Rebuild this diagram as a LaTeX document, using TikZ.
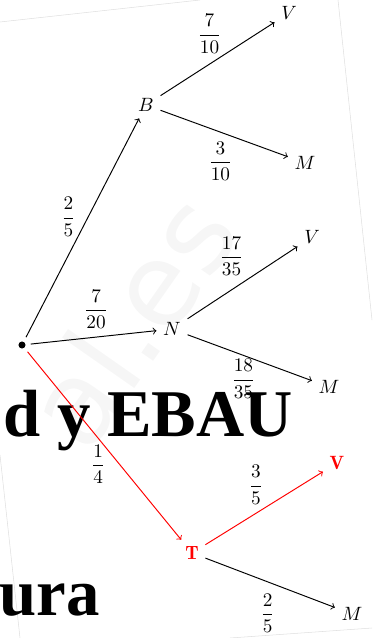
\documentclass[11pt,tikz,border=0pt]{standalone}
\usepackage{amsmath}
\usepackage{fontspec}
\newfontfamily\bigserif{Liberation Serif}
\newfontfamily\wmsans{DejaVu Sans}
\tikzset{
  prob/.style={inner sep=1pt, text=black},
  dot/.style={circle, fill, inner sep=0pt, minimum size=4pt, outer sep=3pt},
  branch/.style={->, line width=0.55pt},
  hit/.style={branch, red},
  edge line/.style={gray!25, line width=0.3pt}
}

\begin{document}
\begin{tikzpicture}[x=0.02cm, y=-0.02cm]
  \useasboundingbox (0,0) rectangle (372,638);
  % page edges and watermark
  \draw[edge line] (0,22) -- (200,0);
  \draw[edge line] (338,0) -- (372,320);
  \draw[edge line] (0,455) -- (20,638);
  \draw[edge line] (230,638) -- (372,628);
  \node[rotate=55, text=gray!7, font={\wmsans\fontsize{66}{66}\selectfont}] (wm) at (130,320) {al.es};
  % heading text behind the tree
  \node[anchor=base east, inner sep=0pt, font={\bigserif\bfseries\fontsize{38}{40}\selectfont}] (head) at (293,436) {d y EBAU};
  \node[anchor=base west, inner sep=0pt, font={\bigserif\bfseries\fontsize{38}{40}\selectfont}] (foot) at (-1,615) {ura};

  \node[dot] (o) at (22,345) {};
  \node (B) at (146,105) {$B$};
  \node (V1) at (289,13) {$V$};
  \node (M1) at (305,163) {$M$};
  \node (N) at (172,329) {$N$};
  \node (V2) at (312,237) {$V$};
  \node (M2) at (329,387) {$M$};
  \node[red] (T) at (192,553) {$\mathbf{T}$};
  \node[red] (V3) at (337,463) {$\mathbf{V}$};
  \node (M3) at (352,614) {$M$};

  \draw[branch] (o) -- (B) node[prob, pos=0.55, left=6pt] {$\dfrac{2}{5}$};
  \draw[branch] (B) -- (V1) node[prob, pos=0.43, above=5pt] {$\dfrac{7}{10}$};
  \draw[branch] (B) -- (M1) node[prob, pos=0.47, below=4.5pt] {$\dfrac{3}{10}$};
  \draw[branch] (o) -- (N) node[prob, pos=0.52, above=3.7pt] {$\dfrac{7}{20}$};
  \draw[branch] (N) -- (V2) node[prob, pos=0.40, above=7pt] {$\dfrac{17}{35}$};
  \draw[branch] (N) -- (M2) node[prob, pos=0.45, below=1pt] {$\dfrac{18}{35}$};
  \draw[hit] (o) -- (T) node[prob, pos=0.6, left=7pt] {$\dfrac{1}{4}$};
  \draw[hit] (T) -- (V3) node[prob, pos=0.43, above=4pt] {$\dfrac{3}{5}$};
  \draw[branch] (T) -- (M3) node[prob, pos=0.48, below=5.7pt] {$\dfrac{2}{5}$};
\end{tikzpicture}
\end{document}
